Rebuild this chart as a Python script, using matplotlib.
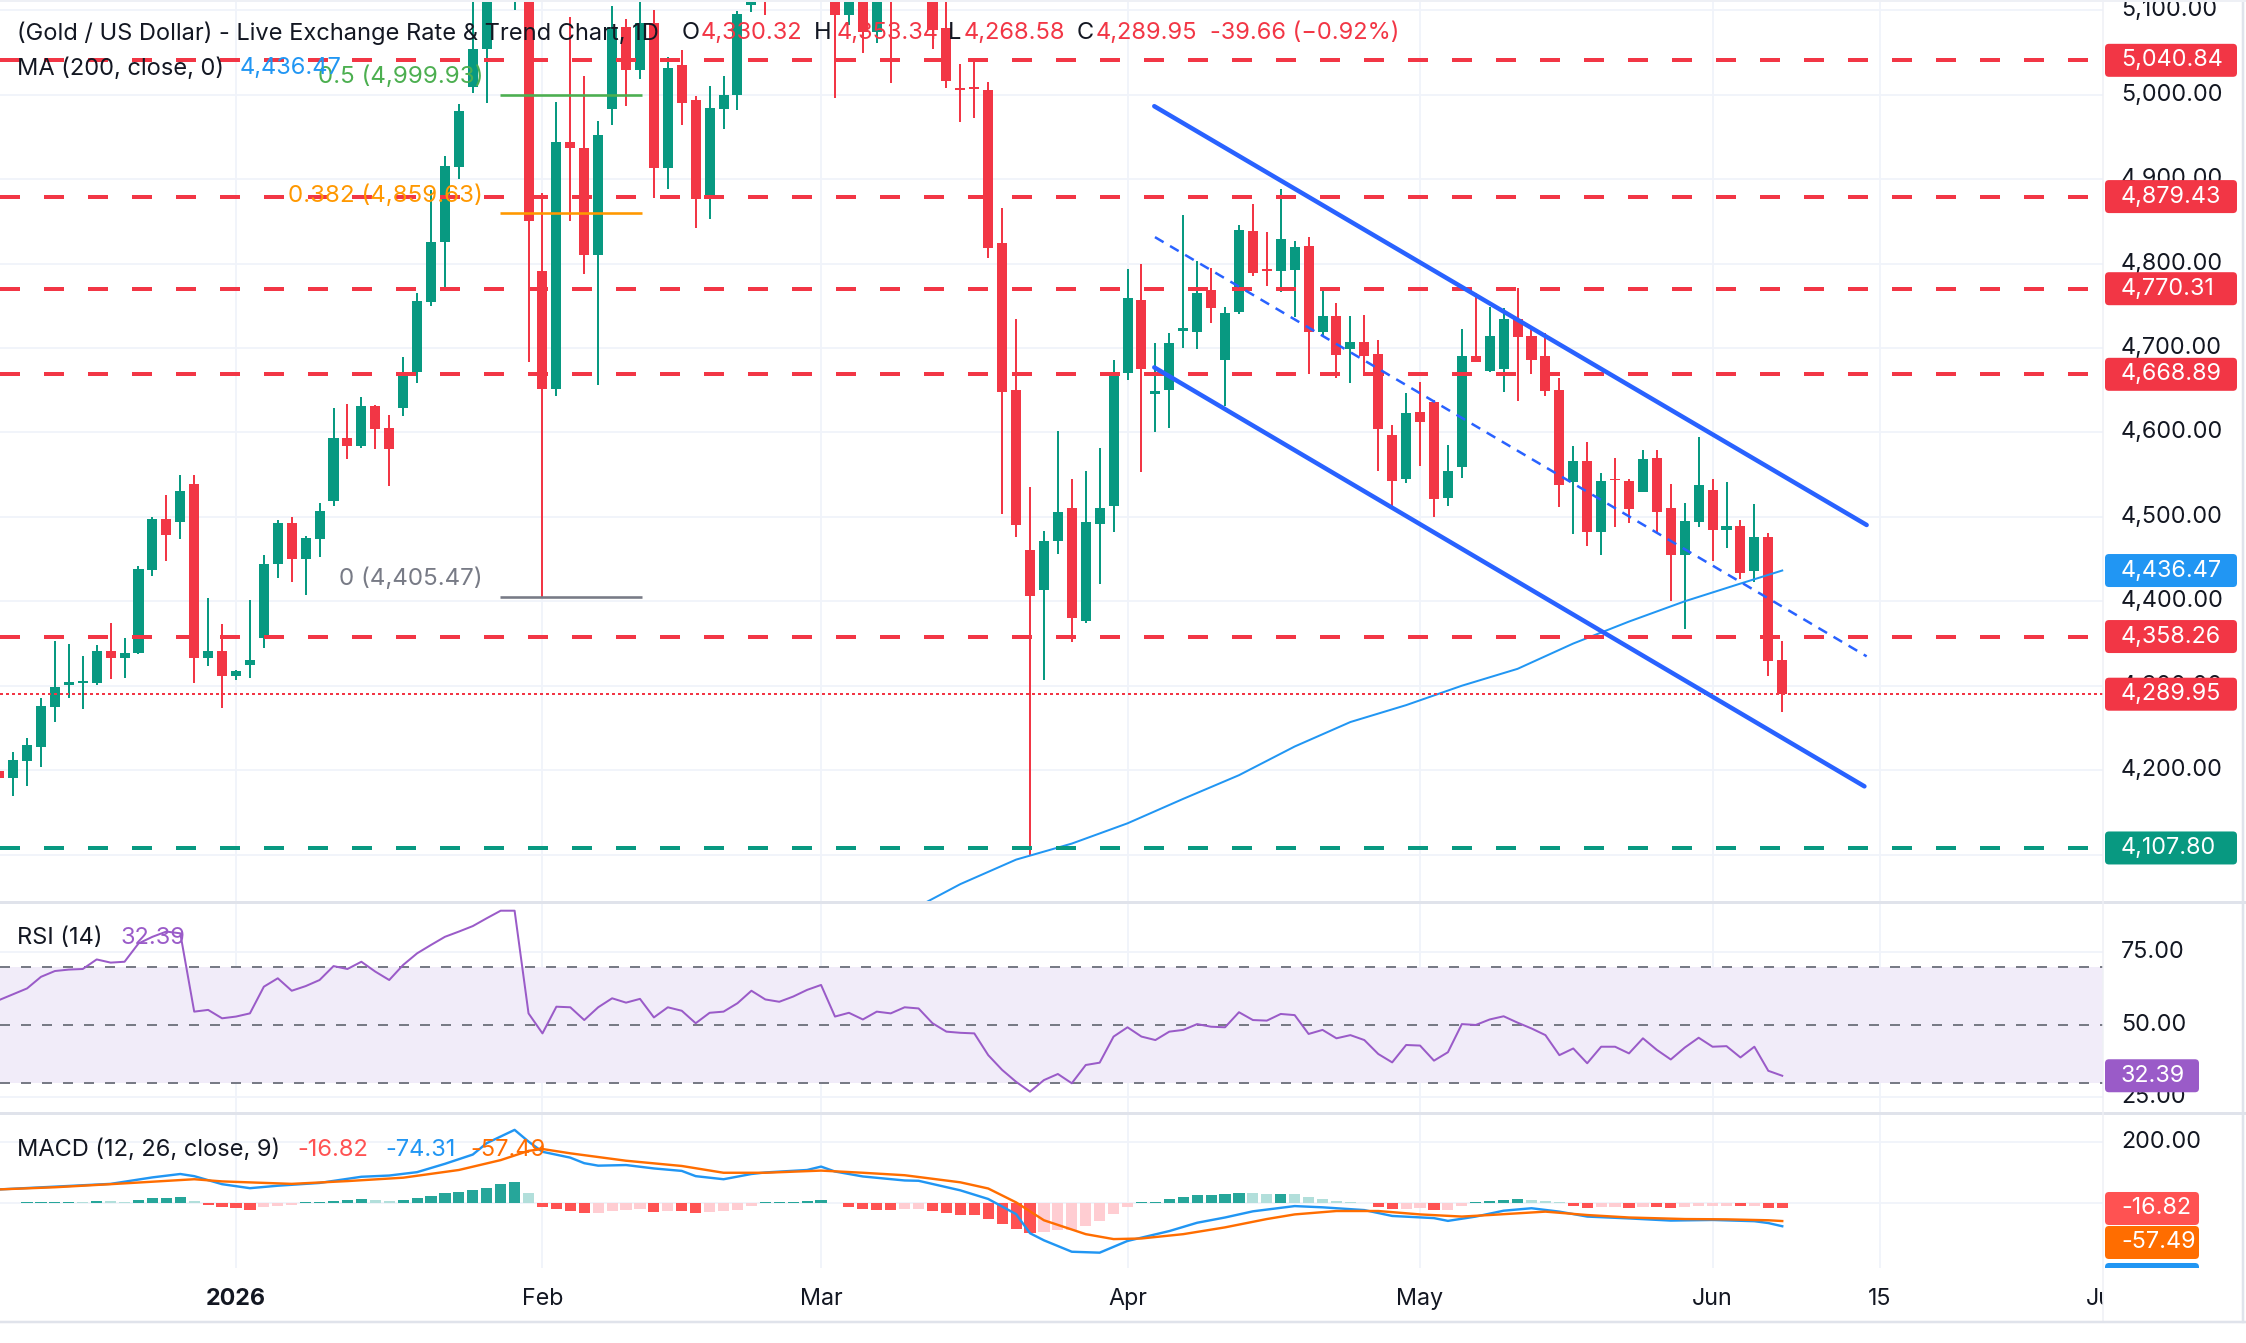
import numpy as np
import matplotlib
matplotlib.use("Agg")
import matplotlib.pyplot as plt
from matplotlib.patches import FancyBboxPatch
from matplotlib.transforms import IdentityTransform, Bbox
from matplotlib.lines import Line2D

plt.rcParams['font.family'] = ['Inter', 'DejaVu Sans']

# ------------------------------------------------------------------ DATA
first_bar = -17          # bar index of first visible candle (0 = 1 Jan 2026)

opens = [4199.4, 4190.3, 4211.2, 4227.8, 4275.2, 4300.5, 4303.6, 4302.8, 4341.1, 4333.2, 4338.4, 4437.1, 4497.5, 4494.4, 4539.0, 4333.2, 4341.1,
         4311.9, 4324.6, 4356.9, 4443.8, 4492.4, 4450.1, 4473.8, 4519.2, 4593.1, 4584.4,
         4631.4, 4605.3, 4628.5, 4671.2, 4754.9, 4825.2, 4914.8, 5009.6, 5053.9, 5150.0,
         5390.0, 5420.0, 4791.4, 4651.3, 4944.3, 4936.9, 4809.7, 4983.1, 5080.3, 5029.3,
         5085.0, 4913.1, 5035.5, 4993.3, 4876.3, 4983.1, 5000.1, 5106.4, 5150.0, 5130.0,
         5120.0, 5175.0, 5225.0, 5260.0, 5094.5, 5130.0, 5074.8, 5041.5, 5130.0, 5170.0,
         5160.0, 5078.7, 5007.0, 5008.5, 5005.5, 4824.7, 4649.9, 4460.9, 4413.3, 4471.1,
         4510.5, 4376.5, 4492.1, 4512.5, 4670.3, 4756.7, 4646.0, 4649.9, 4720.0, 4719.3,
         4768.9, 4685.9, 4743.1, 4838.9, 4793.0, 4791.3, 4792.7, 4821.3, 4719.3, 4738.3,
         4698.9, 4707.5, 4692.5, 4597.5, 4544.5, 4624.7, 4636.3, 4522.7, 4559.3, 4690.5,
         4672.3, 4675.7, 4734.5, 4714.6, 4690.5, 4650.3, 4541.1, 4565.7, 4481.9, 4544.0,
         4542.4, 4529.6, 4569.9, 4510.7, 4454.6, 4493.7, 4531.8, 4484.0, 4489.5, 4435.4,
         4476.4, 4330.32]
highs = [4205.0, 4221.9, 4237.7, 4285.1, 4353.0, 4349.4, 4335.2, 4348.3, 4373.9, 4356.9, 4442.2, 4500.3, 4526.0, 4549.7, 4549.7, 4403.5, 4372.7,
         4318.6, 4401.6, 4454.9, 4496.3, 4500.3, 4477.4, 4516.1, 4628.6, 4633.8, 4642.5,
         4632.6, 4620.7, 4689.0, 4764.8, 4887.2, 4927.5, 4988.7, 5125.0, 5190.0, 5420.0,
         5594.39, 5450.0, 4883.1, 4991.9, 5091.9, 5022.5, 4969.5, 5105.0, 5090.0, 5125.0,
         5100.0, 5044.3, 5052.5, 4998.7, 5010.3, 5021.9, 5098.7, 5160.0, 5175.0, 5160.0,
         5190.0, 5240.0, 5280.0, 5275.0, 5150.0, 5145.0, 5140.0, 5130.0, 5190.0, 5200.0,
         5175.0, 5125.0, 5036.5, 5043.2, 5015.1, 4866.1, 4734.9, 4535.7, 4483.3, 4602.3,
         4544.5, 4554.7, 4581.9, 4685.9, 4794.1, 4799.5, 4706.3, 4717.9, 4857.3, 4802.9,
         4794.7, 4748.5, 4845.7, 4870.9, 4836.9, 4887.9, 4826.7, 4832.1, 4770.9, 4753.3,
         4738.3, 4739.5, 4709.5, 4609.1, 4646.5, 4660.1, 4638.0, 4585.3, 4723.1, 4765.4,
         4748.4, 4747.2, 4771.7, 4726.0, 4717.6, 4665.1, 4584.3, 4588.5, 4552.5, 4569.9,
         4545.4, 4579.2, 4579.2, 4539.0, 4516.6, 4594.9, 4545.4, 4541.1, 4495.8, 4514.9,
         4480.6, 4353.34]
lows = [4185.0, 4169.8, 4181.6, 4204.1, 4257.4, 4285.1, 4272.0, 4300.9, 4308.0, 4309.5, 4337.0, 4430.0, 4447.8, 4473.8, 4303.6, 4323.4, 4274.0,
        4306.8, 4309.6, 4345.1, 4428.0, 4423.3, 4407.5, 4452.9, 4512.9, 4568.6, 4582.0,
        4580.5, 4536.6, 4619.9, 4659.0, 4750.0, 4771.9, 4899.8, 5002.5, 4989.9, 5130.0,
        5100.0, 4683.9, 4405.47, 4643.1, 4850.5, 4787.9, 4656.7, 4964.7, 4986.5, 5019.1,
        4877.7, 4887.9, 4964.7, 4841.7, 4852.5, 4959.3, 4981.7, 5098.5, 5094.5, 5115.0,
        5113.0, 5160.0, 5200.0, 4995.8, 5082.7, 5049.1, 5061.8, 5014.4, 5115.0, 5140.0,
        5053.9, 5007.6, 4967.5, 4972.9, 4806.3, 4503.7, 4476.5, 4100.0, 4306.5, 4456.1,
        4352.1, 4374.5, 4420.1, 4481.9, 4662.1, 4553.4, 4601.0, 4605.7, 4699.5, 4698.9,
        4730.1, 4631.5, 4740.0, 4785.9, 4773.7, 4766.9, 4736.9, 4669.0, 4714.5, 4664.9,
        4658.1, 4666.9, 4554.7, 4509.1, 4539.7, 4560.1, 4500.3, 4512.5, 4546.6, 4683.0,
        4671.4, 4648.2, 4637.6, 4669.3, 4643.5, 4512.3, 4479.8, 4465.0, 4454.4, 4488.2,
        4492.5, 4529.6, 4481.0, 4400.6, 4366.8, 4488.2, 4448.1, 4462.8, 4426.9, 4422.6,
        4311.8, 4268.58]
closes = [4190.3, 4212.0, 4229.8, 4276.0, 4298.5, 4304.8, 4305.6, 4341.1, 4333.2, 4338.4, 4438.3, 4497.5, 4478.6, 4530.7, 4333.2, 4341.1, 4311.9,
          4317.5, 4330.5, 4443.8, 4492.4, 4450.1, 4474.6, 4507.0, 4593.1, 4584.4, 4631.4,
          4604.5, 4580.5, 4671.2, 4755.7, 4825.2, 4915.6, 4980.8, 5053.9, 5150.0, 5390.0,
          5420.0, 4850.5, 4651.3, 4944.3, 4936.9, 4809.7, 4952.5, 5080.3, 5029.3, 5085.0,
          4913.1, 5032.1, 4989.9, 4876.3, 4984.5, 5000.1, 5095.3, 5150.0, 5130.0, 5120.0,
          5175.0, 5225.0, 5260.0, 5094.5, 5130.0, 5074.8, 5125.0, 5040.4, 5170.0, 5160.0,
          5076.8, 5016.7, 5005.7, 5007.0, 4818.5, 4648.5, 4490.1, 4406.5, 4471.1, 4505.7,
          4379.9, 4493.5, 4510.5, 4670.3, 4758.7, 4675.7, 4649.0, 4705.6, 4723.3, 4765.5,
          4747.1, 4741.7, 4840.3, 4789.3, 4791.3, 4828.7, 4819.9, 4719.3, 4738.3, 4692.1,
          4707.7, 4690.5, 4604.1, 4543.1, 4622.7, 4612.5, 4520.7, 4554.7, 4690.5, 4683.7,
          4714.6, 4734.5, 4713.3, 4686.2, 4649.0, 4538.2, 4565.7, 4481.9, 4542.4, 4543.2,
          4509.4, 4568.6, 4506.0, 4455.2, 4494.6, 4538.2, 4484.0, 4489.1, 4433.2, 4475.6,
          4329.61, 4289.95]

ma_idx = [48, 52, 56, 60, 64, 68, 72, 76, 80, 84, 88, 92, 96, 100, 104, 108, 111]
ma_vals = [4030, 4065, 4094, 4113, 4137, 4166, 4194, 4228, 4257, 4277, 4300, 4320, 4350, 4376, 4400, 4421, 4436.47]

rsi = [58.5, 60.5, 62.5, 66.5, 68.5, 69.0, 69.2, 72.5, 71.4, 71.7, 78.0, 80.3, 82.1, 81.5, 54.5, 55.1, 52.2,
       52.8, 53.9, 63.1, 66.0, 61.7, 63.3, 65.4, 70.2, 69.2, 71.7,
       68.3, 65.4, 70.6, 74.6, 77.5, 80.3, 82.1, 84.0, 86.7, 89.3,
       89.3, 53.9, 47.0, 56.2, 56.0, 51.6, 56.0, 59.1, 57.6, 58.9,
       52.5, 56.0, 54.8, 50.5, 54.1, 54.5, 57.4, 61.7, 58.7, 57.9,
       59.7, 62.0, 63.7, 52.8, 54.1, 51.8, 54.5, 53.9, 56.0, 55.6,
       50.5, 47.6, 47.2, 47.0, 39.5, 34.4, 30.3, 26.9, 30.9, 33.0,
       29.8, 36.1, 36.9, 45.9, 49.1, 45.9, 44.7, 47.6, 48.2, 50.2,
       49.3, 49.1, 54.3, 51.6, 51.4, 53.7, 53.3, 46.8, 48.2, 45.3,
       46.4, 44.7, 39.9, 37.0, 43.0, 42.8, 37.6, 40.5, 50.2, 49.9,
       51.8, 52.9, 50.7, 48.7, 46.4, 39.5, 41.8, 36.7, 42.4, 42.4,
       40.1, 45.3, 41.3, 38.0, 42.1, 45.5, 42.4, 42.6, 38.7, 42.4,
       34.1, 32.39]

macd_idx = [-17, -13, -9, -6, -4, -3, -1, 1, 3, 6, 9, 11, 13, 15, 17, 18, 20, 21, 22, 24,
            25, 26, 28, 30, 32, 33, 35, 37, 38, 41, 42, 43, 45, 48, 49, 52, 54, 56, 57, 58,
            60, 62, 64, 67, 69, 71, 73, 76, 78, 81, 83, 86, 87, 89, 91, 93, 95, 97, 100, 103,
            106, 109, 110, 111]
macd_vals = [45, 54, 63, 84, 95, 88, 62, 49, 57, 66, 86, 90, 101, 128, 158, 195, 238, 200, 167, 148,
             130, 122, 124, 113, 105, 88, 78, 95, 100, 108, 119, 103, 87, 74, 73, 42, 14, -35, -97, -120,
             -157, -160, -122, -90, -63, -46, -26, -9, -13, -22, -41, -48, -57, -43, -24, -16, -27, -43, -49, -56,
             -54, -58, -64, -74.31]
sig_idx = [-17, -13, -9, -3, -1, 4, 8, 12, 16, 19, 21, 22, 24, 26, 28, 32, 35, 38, 42, 45,
           48, 52, 54, 56, 58, 61, 63, 65, 68, 71, 74, 76, 79, 82, 85, 88, 90, 94, 97, 100,
           104, 107, 110, 111]
sig_vals = [45, 52, 62, 78, 71, 63, 72, 83, 108, 140, 170, 176, 162, 150, 138, 121, 99, 99, 106, 99,
            91, 68, 48, 3, -55, -100, -116, -114, -100, -78, -51, -36, -25, -25, -36, -43, -38, -27, -38, -46,
            -51, -52, -55, -57.49]
hist = [2, 1.5, 3, 3.2, 5, 5.5, 5, 8, 7.5, 4, 11, 17, 17.5, 21, 8, -4, -13,
        -16, -22, -13, -8, -5, 3, 3.5, 8, 11, 14,
        11, 8, 11, 17, 25, 32, 38, 43, 51, 64,
        69, 35, -11, -18, -25, -32, -31, -25, -22, -19,
        -27, -25, -26, -32, -29, -25, -22, -8, 3, 3.2,
        3.5, 8, 11, 2, -11, -18, -21, -22, -18, -17.5,
        -25, -30, -37, -38, -51, -67, -83, -95, -94, -86,
        -85, -73, -57, -35, -11, 3, 5, 14, 21, 27,
        27.5, 31, 35, 34.5, 31, 31.5, 31, 21, 14, 8,
        5, 2, -11, -18, -17.5, -16, -22, -21.5, -8, 3,
        8, 11, 14, 11, 8, 3, -8, -14, -13.5, -13,
        -14, -11, -11.5, -14, -13.5, -8, -8, -7.8, -8.5, -8,
        -14, -16.82]

red_levels = [5040.84, 4879.43, 4770.31, 4668.89, 4358.26]
green_level = 4107.80
fib_names = ["0.5", "0.382", "0"]
fib_prices = [4999.93, 4859.63, 4405.47]
fib_span = (18.95, 29.15)
chan_upper = [(65.92, 4986.5), (117.06, 4490.4)]
chan_lower = [(65.92, 4677.1), (116.9, 4180.8)]
chan_mid = [(65.97, 4831.4), (117.06, 4334.8)]
date_ticks = [0, 22, 42, 64, 85, 106, 118, 134]
date_labels = ["2026", "Feb", "Mar", "Apr", "May", "Jun", "15", "Jul"]
price_grid = list(range(4100, 5101, 100))
price_labels = list(range(4200, 5101, 100))
rsi_ticks = [75, 50, 25]
macd_ticks = [200]

# ------------------------------------------------------------------ STYLE
W, H, DPI = 2246, 1343, 200
GREEN = '#089981'; RED = '#F23645'; MA_BLUE = '#2196F3'; CH_BLUE = '#2962FF'
DARK = '#131722'; GRID = '#F0F3FA'; SEP = '#E0E3EB'; GRAY = '#787B86'
RSI_C = '#9A5BC8'; RSI_BAND = '#F1ECF9'
M_BLUE = '#2196F3'; M_ORANGE = '#FF6D00'; H_RED = '#FF5252'
FS_T = 8.5
FS_A = 8.4
PT = 72.0 / DPI   # points per pixel

X0_PX, BAR_PX, PLOT_R = 236.0, 13.93, 2103
MAIN = (0, 902); RSI_P = (902, 1113); MACD_P = (1113, 1268); DATE_P = (1268, 1322)

fig = plt.figure(figsize=(W / DPI, H / DPI), dpi=DPI)
fig.patch.set_facecolor('white')


def rect(x0, y0, x1, y1):
    return [x0 / W, 1 - y1 / H, (x1 - x0) / W, (y1 - y0) / H]


xlim = ((0 - X0_PX) / BAR_PX, (PLOT_R - X0_PX) / BAR_PX)
ax = fig.add_axes(rect(0, MAIN[0], PLOT_R, MAIN[1]))
ax_r = fig.add_axes(rect(0, RSI_P[0], PLOT_R, RSI_P[1]))
ax_m = fig.add_axes(rect(0, MACD_P[0], PLOT_R, MACD_P[1]))
ax_d = fig.add_axes(rect(0, DATE_P[0], PLOT_R, DATE_P[1]))
for a in (ax, ax_r, ax_m, ax_d):
    a.set_xlim(*xlim)
    a.axis('off')
ax.set_ylim(4043.8, 5112.3)
ax_r.set_ylim(19.55, 92.3)
ax_m.set_ylim(-209.7, 292.7)
ax_d.set_ylim(0, 1)

# grids
for p in price_grid:
    ax.axhline(p, color=GRID, lw=1.8 * PT, zorder=0)
for v in rsi_ticks:
    ax_r.axhline(v, color=GRID, lw=1.8 * PT, zorder=0)
for v in macd_ticks + [0]:
    ax_m.axhline(v, color=GRID, lw=1.8 * PT, zorder=0)
for t in date_ticks[:-1]:
    for a in (ax, ax_r, ax_m):
        a.axvline(t, color=GRID, lw=1.8 * PT, zorder=0)

# ------------------------------------------------------------------ candles
o = np.array(opens); h = np.array(highs); l = np.array(lows); c = np.array(closes)
idx = np.arange(first_bar, first_bar + len(o))
cols = np.where(c >= o, GREEN, RED)
ax.vlines(idx, l, h, colors=cols, lw=2 * PT, zorder=3)
body_lo = np.minimum(o, c)
body_h = np.maximum(np.abs(c - o), 2.2)
ax.bar(idx, body_h, bottom=body_lo, width=0.72, color=cols, linewidth=0, zorder=4)

# MA 200
ax.plot(ma_idx, ma_vals, color=MA_BLUE, lw=2 * PT, zorder=5)

# horizontal levels
for p in red_levels:
    ax.axhline(p, color=RED, lw=4 * PT, dashes=(5, 6), zorder=6)
ax.axhline(green_level, color=GREEN, lw=4 * PT, dashes=(5, 6), zorder=6)
ax.axhline(closes[-1], color=RED, lw=2 * PT, dashes=(1.5, 1.5), zorder=6)

# channel
for seg, lw, ds in ((chan_upper, 4.5, None), (chan_lower, 4.5, None), (chan_mid, 2.5, (4, 3))):
    (x1, y1), (x2, y2) = seg
    ln = Line2D([x1, x2], [y1, y2], color=CH_BLUE, lw=lw * PT, zorder=7, solid_capstyle='round')
    if ds:
        ln.set_dashes(ds)
    ax.add_line(ln)

# fib
fib_cols = ['#4CAF50', '#FF9800', GRAY]
for name, p, fc in zip(fib_names, fib_prices, fib_cols):
    ax.plot(fib_span, [p, p], color=fc, lw=2.6 * PT, zorder=7, solid_capstyle='butt')


# ------------------------------------------------------------------ text helpers
def txt(x, y_top, s, **kw):
    kw.setdefault('fontsize', FS_T)
    kw.setdefault('va', 'center')
    kw.setdefault('ha', 'left')
    return fig.text(x, H - y_top, s, transform=IdentityTransform(), **kw)


def disp_y(a, v):
    return a.transData.transform((0, v))[1]


for name, p, fc in zip(fib_names, fib_prices, fib_cols):
    yt = H - disp_y(ax, p) - 18
    txt(483, yt, f"{name} ({p:,.2f})", color=fc, ha='right', fontsize=8.7, zorder=12)

# legend lines
chg = closes[-1] - closes[-2]
pct = chg / closes[-2] * 100
txt(17, 33, "(Gold / US Dollar) - Live Exchange Rate & Trend Chart, 1D", color=DARK, zorder=12)
for x, s, col in [(682, "O", DARK), (701, f"{opens[-1]:,.2f}", RED),
                  (814, "H", DARK), (837, f"{highs[-1]:,.2f}", RED),
                  (948, "L", DARK), (964, f"{lows[-1]:,.2f}", RED),
                  (1077, "C", DARK), (1096, f"{closes[-1]:,.2f}", RED),
                  (1210, f"{chg:.2f} (\u2212{abs(pct):.2f}%)", RED)]:
    txt(x, 33, s, color=col, zorder=12)
txt(17, 68.5, "MA (200, close, 0)", color=DARK, zorder=12)
txt(240, 68.5, f"{ma_vals[-1]:,.2f}", color=MA_BLUE, zorder=12)

# ------------------------------------------------------------------ RSI
ax_r.axhspan(30, 70, color=RSI_BAND, lw=0, zorder=0.5)
for v in (70, 50, 30):
    ax_r.axhline(v, color=GRAY, lw=2 * PT, dashes=(5, 5.5), zorder=1)
ax_r.plot(idx, rsi, color=RSI_C, lw=2 * PT, zorder=3)
txt(17, 938, "RSI (14)", color=DARK, zorder=12)
txt(121, 938, f"{rsi[-1]:.2f}", color=RSI_C, zorder=12)

# ------------------------------------------------------------------ MACD
hv = np.array(hist)
prev = np.r_[np.inf, hv[:-1]]
hcols = np.where(hv >= 0, np.where(hv >= prev, '#26A69A', '#B2DFDB'),
                 np.where(hv < prev, H_RED, '#FFCDD2'))
ax_m.bar(idx, hv, width=0.8, color=hcols, linewidth=0, zorder=2)
ax_m.plot(macd_idx, macd_vals, color=M_BLUE, lw=2.4 * PT, zorder=3)
ax_m.plot(sig_idx, sig_vals, color=M_ORANGE, lw=2.4 * PT, zorder=4)
txt(17, 1150, "MACD (12, 26, close, 9)", color=DARK, zorder=12)
txt(297, 1150, f"{hist[-1]:.2f}", color=H_RED, zorder=12)
txt(385, 1150, f"{macd_vals[-1]:.2f}", color=M_BLUE, zorder=12)
txt(470, 1150, f"{sig_vals[-1]:.2f}", color=M_ORANGE, zorder=12)

# ------------------------------------------------------------------ date axis
for t, s in zip(date_ticks, date_labels):
    ax_d.text(t, 0.42, s, ha='center', va='center', fontsize=FS_A, color=DARK,
              fontweight='bold' if s == "2026" else 'normal', clip_on=True)

# ------------------------------------------------------------------ price axis
LX = 2121


def box(yd, text, color, x0=2105, x1=2237, hgt=33, clip=None):
    p = FancyBboxPatch((x0, yd - hgt / 2), x1 - x0, hgt,
                       boxstyle="round,pad=0,rounding_size=4",
                       transform=IdentityTransform(), facecolor=color,
                       edgecolor='none', zorder=20)
    fig.add_artist(p)
    t = fig.text(LX, yd, text, transform=IdentityTransform(), color='white',
                 fontsize=FS_A, ha='left', va='center', zorder=21)
    if clip is not None:
        p.set_clip_box(clip); p.set_clip_on(True)
        t.set_clip_box(clip); t.set_clip_on(True)


for p in price_labels:
    fig.text(LX, disp_y(ax, p), f"{p:,.2f}", transform=IdentityTransform(),
             color=DARK, fontsize=FS_A, ha='left', va='center', zorder=15)
for v in rsi_ticks:
    fig.text(LX, disp_y(ax_r, v), f"{v:.2f}", transform=IdentityTransform(),
             color=DARK, fontsize=FS_A, ha='left', va='center', zorder=15)
for v in macd_ticks:
    fig.text(LX, disp_y(ax_m, v), f"{v:.2f}", transform=IdentityTransform(),
             color=DARK, fontsize=FS_A, ha='left', va='center', zorder=15)

for p in red_levels:
    box(disp_y(ax, p), f"{p:,.2f}", RED)
box(disp_y(ax, ma_vals[-1]), f"{ma_vals[-1]:,.2f}", MA_BLUE)
box(disp_y(ax, closes[-1]), f"{closes[-1]:,.2f}", RED)
box(disp_y(ax, green_level), f"{green_level:,.2f}", GREEN)
box(disp_y(ax_r, rsi[-1]), f"{rsi[-1]:.2f}", RSI_C, x1=2199)

macd_clip = Bbox.from_extents(PLOT_R, H - MACD_P[1], W, H - MACD_P[0])
y_h = disp_y(ax_m, hist[-1])
box(y_h, f"{hist[-1]:.2f}", H_RED, x1=2199, clip=macd_clip)
box(y_h - 34, f"{sig_vals[-1]:.2f}", M_ORANGE, x1=2199, clip=macd_clip)
box(y_h - 71, f"{macd_vals[-1]:.2f}", M_BLUE, x1=2199, clip=macd_clip)

# ------------------------------------------------------------------ separators / frame
def fline(x0, y0, x1, y1, lw_px, col=SEP):
    fig.add_artist(Line2D([x0, x1], [H - y0, H - y1], transform=IdentityTransform(),
                          color=col, lw=lw_px * PT, zorder=30))

fline(0, 902, W, 902, 3)
fline(0, 1113, W, 1113, 3)
fline(PLOT_R, 0, PLOT_R, 1322, 1.5, '#EEF0F5')
fline(0, 1322, W, 1322, 2.5)
fline(2243, 0, 2243, 1322, 2.5)
fline(0, 1, W, 1, 2, '#EEF0F5')

fig.savefig("out.png", dpi=DPI, facecolor='white')
